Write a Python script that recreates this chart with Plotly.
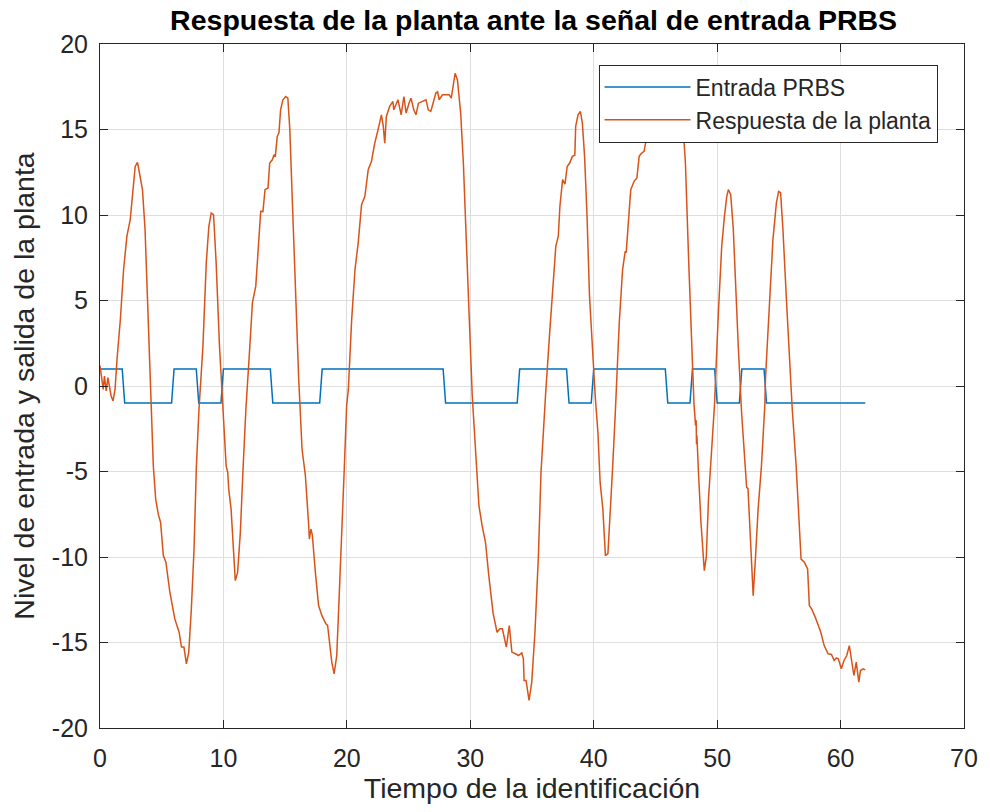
import plotly.graph_objects as go

# PRBS input: breakpoints (time, level)
prbs_t = [0, 1.8, 2.0, 5.8, 6.0, 7.8, 8.0, 9.8, 10.0, 13.8, 14.0, 17.8, 18.0,
          27.8, 28.0, 33.8, 34.0, 37.8, 38.0, 39.8, 40.0, 45.8, 46.0, 47.8, 48.0,
          49.8, 50.0, 51.8, 52.0, 53.8, 54.0, 62.0]
prbs_y = [1, 1, -1, -1, 1, 1, -1, -1, 1, 1, -1, -1, 1,
          1, -1, -1, 1, 1, -1, -1, 1, 1, -1, -1, 1,
          1, -1, -1, 1, 1, -1, -1]

# Plant response
resp_t = [0.0, 0.26, 0.36, 0.5, 0.64, 0.77, 0.9, 1.06, 1.22, 1.38, 1.65, 1.91, 2.18, 2.45, 2.67,
          2.85, 3.04, 3.25, 3.44, 3.65, 3.92, 4.19, 4.32, 4.51, 4.72, 4.91, 5.13, 5.34, 5.66,
          6.06, 6.41, 6.6, 6.8, 7.0, 7.19, 7.4, 7.62, 7.81, 8.02, 8.34, 8.61, 8.82, 9.01, 9.2,
          9.41, 9.68, 9.95, 10.22, 10.35, 10.43, 10.62, 10.8, 10.96, 11.15, 11.37, 11.6, 11.82,
          12.14, 12.35, 12.62, 12.89, 13.02, 13.2, 13.37, 13.61, 13.75, 13.96, 14.1, 14.2, 14.36,
          14.5, 14.63, 14.82, 15.04, 15.22, 15.38, 15.57, 15.84, 16.1, 16.37, 16.64, 16.91,
          16.96, 17.09, 17.2, 17.45, 17.71, 17.98, 18.3, 18.44, 18.57, 18.78, 18.97, 19.18,
          19.37, 19.58, 19.8, 19.98, 20.12, 20.39, 20.66, 20.92, 21.19, 21.46, 21.73, 21.99,
          22.26, 22.53, 22.8, 22.95, 23.07, 23.2, 23.47, 23.73, 23.8, 24.14, 24.4, 24.62, 24.8,
          25.08, 25.2, 25.42, 25.6, 25.8, 26.15, 26.41, 26.6, 26.8, 26.95, 27.21, 27.35, 27.48,
          27.75, 28.0, 28.29, 28.46, 28.64, 28.77, 28.96, 29.22, 29.44, 29.62, 29.9, 30.16,
          30.43, 30.7, 30.96, 31.23, 31.5, 31.77, 31.85, 32.17, 32.4, 32.6, 32.92, 33.16, 33.37,
          33.65, 33.91, 34.17, 34.3, 34.36, 34.52, 34.76, 34.98, 35.24, 35.52, 35.73, 35.92,
          36.1, 36.45, 36.72, 36.93, 37.13, 37.26, 37.48, 37.67, 37.85, 38.05, 38.27, 38.47,
          38.54, 38.73, 38.92, 39.08, 39.26, 39.45, 39.66, 39.88, 40.12, 40.34, 40.52, 40.74,
          40.95, 41.15, 41.33, 41.54, 41.75, 42.07, 42.34, 42.55, 42.63, 42.82, 43.0, 43.27,
          43.5, 43.68, 43.85, 44.08, 44.2, 44.48, 45.0, 45.5, 46.0, 46.5, 46.85, 47.1, 47.3,
          47.43, 47.7, 47.97, 48.12, 48.25, 48.3, 48.33, 48.36, 48.5, 48.69, 48.96, 49.12,
          49.3, 49.57, 49.78, 50.1, 50.37, 50.59, 50.78, 50.91, 51.1, 51.31, 51.5, 51.71,
          51.98, 52.26, 52.39, 52.5, 52.71, 52.92, 53.1, 53.32, 53.59, 53.86, 53.92, 54.02,
          54.26, 54.52, 54.8, 54.98, 55.14, 55.33, 55.6, 55.86, 56.08, 56.4, 56.59, 56.8,
          57.07, 57.33, 57.47, 57.66, 58.0, 58.4, 58.67, 58.99, 59.26, 59.48, 59.66, 59.82,
          60.06, 60.28, 60.5, 60.71, 60.87, 61.08, 61.27, 61.35, 61.48, 61.61, 61.83, 62.0]
resp_y = [1.2, -0.2, 0.58, -0.29, 0.49, -0.19, -0.58, -0.87, -0.19, 1.56, 3.9, 6.8, 8.76, 9.73, 11.68,
          12.84, 13.08, 12.26, 11.48, 9.15, 3.3, -1.55, -4.67, -6.61, -7.49, -7.98, -9.92, -10.3, -12.06,
          -13.62, -14.4, -15.27, -15.27, -16.25, -15.56, -13.04, -9.53, -4.67, -1.36, 2.34, 7.2, 9.34, 10.12, 10.02,
          7.2, 2.34, -1.0, -4.67, -5.06, -6.03, -7.2, -9.34, -11.38, -10.9, -8.56, -4.67, -1.36,
          2.34, 4.87, 5.84, 9.15, 10.22, 10.2, 11.48, 11.58, 13.04, 13.23, 13.53, 13.4, 14.6,
          14.8, 16.15, 16.74, 16.93, 16.83, 14.99, 11.09, 5.25, 0.39, -3.7, -5.25, -8.17,
          -8.95, -8.37, -8.7, -10.9, -12.84, -13.43, -13.91, -14.0, -14.79, -16.15, -16.83, -15.76,
          -12.45, -8.95, -4.67, -1.17, -0.2, 3.89, 6.81, 8.37, 10.6, 11.09, 12.65, 13.13,
          14.2, 14.99, 15.86, 15.2, 14.2, 15.76, 16.35, 16.64, 16.15, 16.74, 15.86, 16.93, 15.96,
          16.64, 16.83, 16.15, 15.86, 16.54, 16.64, 16.74, 16.15, 16.06, 16.45, 17.13, 17.2, 16.74,
          17.03, 17.03, 17.03, 16.83, 17.61, 18.29, 17.9, 15.96, 13.04, 9.15, 4.28, -0.58,
          -3.7, -7.0, -8.17, -9.14, -11.09, -13.04, -13.3, -14.4, -14.2, -14.2, -15.27, -14.01, -15.56,
          -15.66, -15.76, -15.6, -15.95, -17.22, -17.22, -18.39, -17.32, -14.4, -9.92, -5.06, -2.34,
          -0.5, 3.31, 6.23, 8.17, 8.76, 10.5, 12.07, 11.8, 12.84, 13.04, 13.43, 13.5,
          15.18, 15.86, 16.06, 15.37, 13.43, 10.12, 5.25, 2.34, -0.58, -2.72, -5.64, -7.2,
          -9.92, -9.8, -7.59, -4.67, -1.55, 3.7, 6.81, 7.88, 7.8, 9.92, 11.48, 11.97,
          12.16, 13.43, 13.6, 13.72, 14.2, 14.69, 15.6, 16.3, 16.6, 17.2, 17.6, 16.8, 14.6,
          13.04, 7.2, 1.37, -1.0, -2.3, -2.0, -3.4, -2.9, -5.25, -7.98, -10.8, -10.0,
          -6.61, -3.3, -1.17, 4.28, 8.17, 9.92, 11.09, 11.48, 11.19, 9.15, 5.64, 2.34,
          -1.55, -4.67, -5.93, -6.0, -9.53, -12.26, -10.12, -7.2, -4.67, -1.17, 0.5, 1.9,
          5.25, 8.56, 10.71, 11.38, 11.3, 9.15, 5.25, 1.37, -1.3, -4.67, -7.59, -10.12,
          -10.31, -10.7, -12.84, -13.04, -13.62, -14.4, -15.18, -15.66, -15.7, -16.05, -15.9, -15.95,
          -16.54, -16.05, -15.76, -15.18, -15.95, -16.93, -16.15, -16.54, -17.32, -16.64, -16.54, -16.6]

x_ticks = [0, 10, 20, 30, 40, 50, 60, 70]
y_ticks = [-20, -15, -10, -5, 0, 5, 10, 15, 20]
y_tick_text = ["-20", "-15", "-10", "-5", "0", "5", "10", "15", "20"]

title_text = "Respuesta de la planta ante la señal de entrada PRBS"
xlabel = "Tiempo de la identificación"
ylabel = "Nivel de entrada y salida de la planta"
names = ["Entrada PRBS", "Respuesta de la planta"]

FONT = "Liberation Sans, Arial, sans-serif"
AX = "#262626"

fig = go.Figure()
fig.add_trace(go.Scatter(x=prbs_t, y=prbs_y, mode="lines", name=names[0],
                         line=dict(color="#0072BD", width=1.5)))
fig.add_trace(go.Scatter(x=resp_t, y=resp_y, mode="lines", name=names[1],
                         line=dict(color="#D95319", width=1.5)))

axis_common = dict(showgrid=True, gridcolor="#dedede", gridwidth=1,
                   showline=True, linecolor=AX, linewidth=1, mirror="ticks",
                   ticks="inside", ticklen=8, tickcolor=AX, zeroline=False,
                   tickfont=dict(family=FONT, size=25, color=AX))

fig.update_xaxes(range=[0, 70], tickvals=x_ticks, ticklabelstandoff=8, **axis_common,
                 title=dict(text=xlabel, font=dict(family=FONT, size=28.5, color=AX), standoff=2))
fig.update_yaxes(range=[-20, 20], tickvals=y_ticks, ticktext=y_tick_text,
                 ticklabelstandoff=6, **axis_common,
                 title=dict(text=ylabel, font=dict(family=FONT, size=28.5, color=AX), standoff=8))

fig.update_layout(
    width=990, height=812,
    margin=dict(l=100, r=19, t=44, b=84),
    paper_bgcolor="white", plot_bgcolor="white",
    title=dict(text="<b>" + title_text + "</b>", x=0.539, xanchor="center",
               y=0.975, yanchor="middle",
               font=dict(family=FONT, size=28.5, color="black")),
    legend=dict(x=0.577, y=0.97, xanchor="left", yanchor="top",
                bgcolor="white", bordercolor=AX, borderwidth=1,
                font=dict(family=FONT, size=23, color=AX),
                itemwidth=86, tracegroupgap=0),
    showlegend=True,
)

fig.write_html("out.html")
